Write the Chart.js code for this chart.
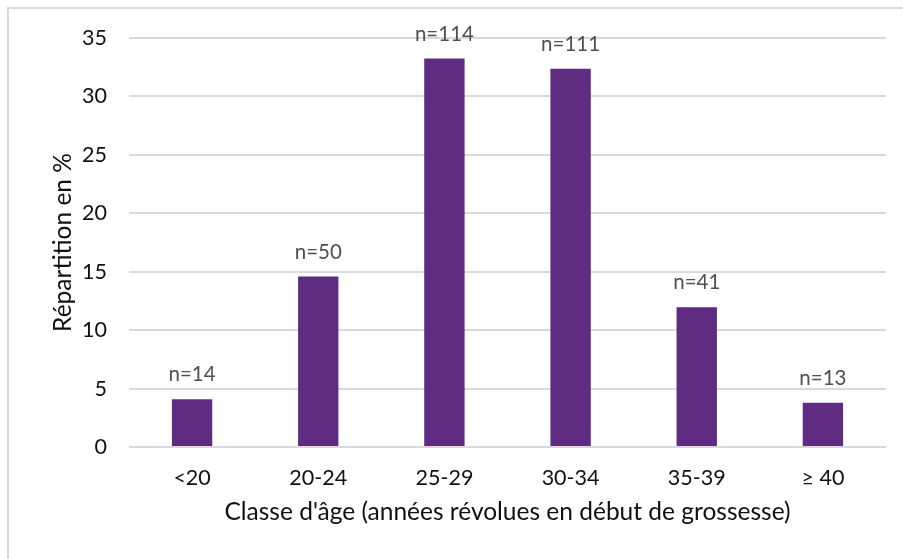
<!DOCTYPE html>
<html>
<head>
<meta charset="utf-8">
<script src="https://cdn.jsdelivr.net/npm/chart.js@4/dist/chart.umd.min.js"></script>
<style>
  html,body{margin:0;padding:0;background:#fff;}
  #wrap{position:relative;width:903px;height:559px;}
</style>
</head>
<body>
<div id="wrap"><canvas id="ageChart"></canvas></div>
<script>
// data
const categories = ['<20', '20-24', '25-29', '30-34', '35-39', '\u2265 40'];
const percentages = [4.08, 14.58, 33.24, 32.36, 11.95, 3.79];
const counts = [14, 50, 114, 111, 41, 13];
const yTicks = [0, 5, 10, 15, 20, 25, 30, 35];

const FONT = "Lato, 'Noto Sans', sans-serif";

// thin grey frame (top + left edge, as in the source image)
const framePlugin = {
  id: 'frame',
  beforeDraw(chart){
    const c = chart.ctx;
    c.save();
    c.strokeStyle = '#d9d9d9';
    c.lineWidth = 2;
    c.beginPath();
    c.moveTo(8, chart.height);
    c.lineTo(8, 8);
    c.lineTo(chart.width, 8);
    c.stroke();
    c.restore();
  }
};

// "n=.." labels above bars
const countLabels = {
  id: 'countLabels',
  afterDatasetsDraw(chart){
    const c = chart.ctx;
    const meta = chart.getDatasetMeta(0);
    c.save();
    c.font = '20.5px ' + FONT;
    c.fillStyle = '#505050';
    c.textAlign = 'center';
    c.textBaseline = 'alphabetic';
    meta.data.forEach((bar, i)=>{
      c.fillText('n=' + counts[i], bar.x, bar.y - 18);
    });
    c.restore();
  }
};

const ctx = document.getElementById('ageChart').getContext('2d');
new Chart(ctx, {
  type: 'bar',
  data: {
    labels: categories,
    datasets: [{
      data: percentages,
      backgroundColor: '#5f2c82',
      categoryPercentage: 1,
      barPercentage: 0.32
    }]
  },
  plugins: [framePlugin, countLabels],
  options: {
    responsive: true,
    maintainAspectRatio: false,
    animation: false,
    layout: { padding: { left: 44, right: 17, top: 38, bottom: 28 } },
    plugins: { legend: { display: false }, tooltip: { enabled: false } },
    scales: {
      x: {
        grid: { display: false, drawTicks: false },
        border: { display: false },
        ticks: { color: '#111', font: { family: FONT, size: 21.5 }, padding: 18 },
        title: {
          display: true,
          text: "Classe d'âge (années révolues en début de grossesse)",
          color: '#111',
          font: { family: FONT, size: 24.5 },
          padding: { top: 2 }
        },
        afterFit(scale){ scale.height = 84; }
      },
      y: {
        min: 0,
        max: 35,
        afterBuildTicks(scale){ scale.ticks = yTicks.map(v=>({ value: v })); },
        grid: { color: '#d9d9d9', lineWidth: 2, drawTicks: false },
        border: { display: false },
        ticks: { color: '#111', font: { family: FONT, size: 21.5 }, padding: 22 },
        title: {
          display: true,
          text: 'Répartition en %',
          color: '#111',
          font: { family: FONT, size: 24.5 },
          padding: { bottom: 2 }
        },
        afterFit(scale){ scale.width = 85; }
      }
    }
  }
});
</script>
</body>
</html>
